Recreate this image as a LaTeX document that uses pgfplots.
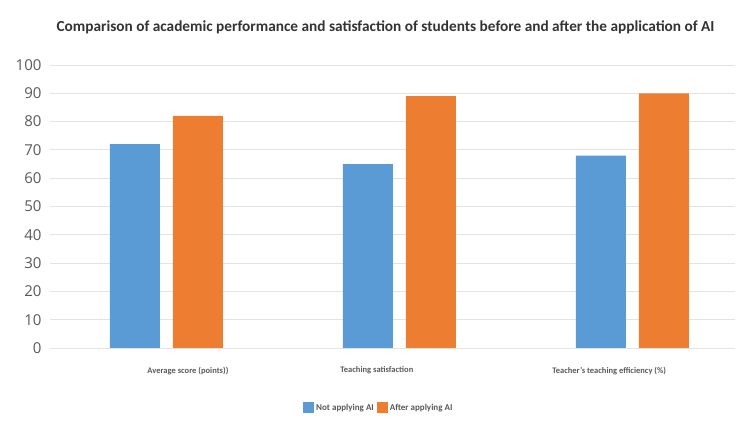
\documentclass[border=0pt]{standalone}
\usepackage{pgfplots}
\pgfplotsset{compat=1.18}
\usepackage{fontspec}
\setmainfont{Carlito}
\newfontfamily\ticksfont{Open Sans}
\definecolor{barblue}{HTML}{5B9BD5}
\definecolor{barorange}{HTML}{ED7D31}
\definecolor{txtgray}{HTML}{595959}
\definecolor{gridgray}{HTML}{E3E3E3}

\begin{document}
\begin{tikzpicture}
  \path[use as bounding box] (0,0) rectangle (737pt,426pt);
  \node[font=\bfseries\fontsize{15.3}{16}\selectfont, text=black!80] at (385.5pt,399pt)
    {Comparison of academic performance and satisfaction of students before and after the application of AI};
  \begin{axis}[
      at={(50pt,78pt)}, anchor=south west,
      scale only axis,
      width=685pt, height=283pt,
      ybar=13pt, bar width=50pt,
      xmin=-0.5, xmax=2.44,
      ymin=0, ymax=100, ytick={0,10,...,100},
      xtick={0.092,0.903,1.90},
      xticklabels={Average score (points)), Teaching satisfaction, Teacher's teaching efficiency (\%)},
      xticklabel style={font=\bfseries\fontsize{8.5}{9}\selectfont, text=txtgray, yshift=-11pt},
      yticklabel style={font=\ticksfont\fontsize{15}{15}\selectfont, text=txtgray, xshift=-5pt},
      /pgf/number format/assume math mode=true,
      axis line style={draw=none},
      major tick style={draw=none},
      ymajorgrids, grid style={gridgray, line width=0.8pt},
      legend columns=-1,
      legend style={at={(0.48,-0.212)}, anchor=center, draw=none, fill=none,
        font=\bfseries\fontsize{9}{10}\selectfont, text=txtgray,
        /tikz/every even column/.append style={column sep=1pt}},
      legend image code/.code={\fill[#1] (0pt,-5.5pt) rectangle (11pt,5.5pt);},
    ]
    \addplot[fill=barblue, draw=none] coordinates {(0,72) (1,65) (2,68)};
    \addplot[fill=barorange, draw=none] coordinates {(0,82) (1,89) (2,90)};
    \legend{Not applying AI, After applying AI}
  \end{axis}
\end{tikzpicture}
\end{document}
